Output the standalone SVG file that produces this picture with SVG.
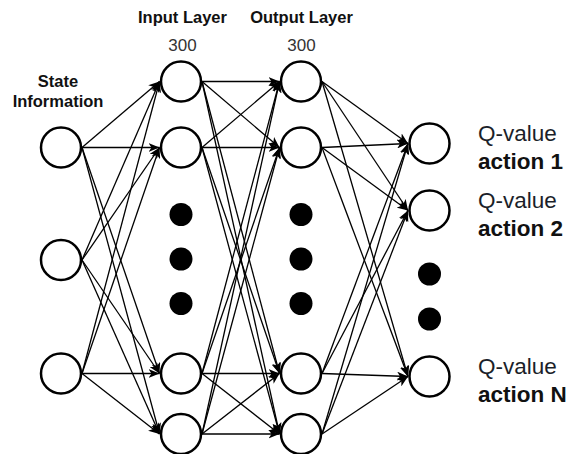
<svg xmlns="http://www.w3.org/2000/svg" width="567" height="454" viewBox="0 0 567 454">
  <style>
    .node { fill: #ffffff; stroke: #000000; stroke-width: 2.5; }
    .dot { fill: #000000; stroke: none; }
    .edge { stroke: #000000; stroke-width: 1.3; fill: none; marker-end: url(#arrow); }
    .title { font-family: "Liberation Sans", Arial, sans-serif; font-weight: bold; font-size: 16.5px; fill: #111111; text-anchor: middle; }
    .count { font-family: "Liberation Sans", Arial, sans-serif; font-size: 17px; fill: #333333; text-anchor: middle; }
    .qval { font-family: "Liberation Sans", Arial, sans-serif; font-size: 22.5px; fill: #1b1f2a; }
    .act { font-family: "Liberation Sans", Arial, sans-serif; font-weight: bold; font-size: 22.5px; fill: #111111; }
  </style>
  <defs>
    <marker id="arrow" viewBox="0 0 11 9" refX="11" refY="4.5" markerWidth="11" markerHeight="9" markerUnits="userSpaceOnUse" orient="auto">
      <path d="M0,0 L11,4.5 L0,9 L3,4.5 Z" fill="#000000"/>
    </marker>
  </defs>
  <rect width="567" height="454" fill="#ffffff"/>

  <!-- layer labels -->
  <g id="labels">
    <text class="title" x="182.5" y="23">Input Layer</text>
    <text class="title" x="301.5" y="23">Output Layer</text>
    <text class="count" x="182.5" y="50.5">300</text>
    <text class="count" x="301.5" y="50.5">300</text>
    <text class="title" x="58" y="87">State</text>
    <text class="title" x="58" y="107">Information</text>
  </g>

  <!-- connectors -->
  <g id="connectors">
    <!-- state -> input layer -->
    <line class="edge" x1="82" y1="147.5" x2="159.5" y2="81.5"/>
    <line class="edge" x1="82" y1="147.5" x2="159.5" y2="147.5"/>
    <line class="edge" x1="82" y1="147.5" x2="159.5" y2="373.5"/>
    <line class="edge" x1="82" y1="147.5" x2="159.5" y2="434"/>
    <line class="edge" x1="82" y1="260" x2="159.5" y2="81.5"/>
    <line class="edge" x1="82" y1="260" x2="159.5" y2="147.5"/>
    <line class="edge" x1="82" y1="260" x2="159.5" y2="373.5"/>
    <line class="edge" x1="82" y1="260" x2="159.5" y2="434"/>
    <line class="edge" x1="82" y1="373.5" x2="159.5" y2="81.5"/>
    <line class="edge" x1="82" y1="373.5" x2="159.5" y2="147.5"/>
    <line class="edge" x1="82" y1="373.5" x2="159.5" y2="373.5"/>
    <line class="edge" x1="82" y1="373.5" x2="159.5" y2="434"/>
    <!-- input layer -> output layer -->
    <line class="edge" x1="202" y1="81.5" x2="279.5" y2="81.5"/>
    <line class="edge" x1="202" y1="81.5" x2="279.5" y2="147.5"/>
    <line class="edge" x1="202" y1="81.5" x2="279.5" y2="373.5"/>
    <line class="edge" x1="202" y1="81.5" x2="279.5" y2="434"/>
    <line class="edge" x1="202" y1="147.5" x2="279.5" y2="81.5"/>
    <line class="edge" x1="202" y1="147.5" x2="279.5" y2="147.5"/>
    <line class="edge" x1="202" y1="147.5" x2="279.5" y2="373.5"/>
    <line class="edge" x1="202" y1="147.5" x2="279.5" y2="434"/>
    <line class="edge" x1="202" y1="373.5" x2="279.5" y2="81.5"/>
    <line class="edge" x1="202" y1="373.5" x2="279.5" y2="147.5"/>
    <line class="edge" x1="202" y1="373.5" x2="279.5" y2="373.5"/>
    <line class="edge" x1="202" y1="373.5" x2="279.5" y2="434"/>
    <line class="edge" x1="202" y1="434" x2="279.5" y2="81.5"/>
    <line class="edge" x1="202" y1="434" x2="279.5" y2="147.5"/>
    <line class="edge" x1="202" y1="434" x2="279.5" y2="373.5"/>
    <line class="edge" x1="202" y1="434" x2="279.5" y2="434"/>
    <!-- output layer -> Q-values -->
    <line class="edge" x1="322" y1="81.5" x2="408" y2="143.5"/>
    <line class="edge" x1="322" y1="81.5" x2="408" y2="210.5"/>
    <line class="edge" x1="322" y1="81.5" x2="408" y2="376.5"/>
    <line class="edge" x1="322" y1="147.5" x2="408" y2="143.5"/>
    <line class="edge" x1="322" y1="147.5" x2="408" y2="210.5"/>
    <line class="edge" x1="322" y1="147.5" x2="408" y2="376.5"/>
    <line class="edge" x1="322" y1="373.5" x2="408" y2="143.5"/>
    <line class="edge" x1="322" y1="373.5" x2="408" y2="210.5"/>
    <line class="edge" x1="322" y1="373.5" x2="408" y2="376.5"/>
    <line class="edge" x1="322" y1="434" x2="408" y2="143.5"/>
    <line class="edge" x1="322" y1="434" x2="408" y2="210.5"/>
    <line class="edge" x1="322" y1="434" x2="408" y2="376.5"/>
  </g>

  <!-- state inputs -->
  <g id="state-1"><circle class="node" cx="61" cy="147.5" r="20"/></g>
  <g id="state-2"><circle class="node" cx="61" cy="260" r="20"/></g>
  <g id="state-3"><circle class="node" cx="61" cy="373.5" r="20"/></g>

  <!-- input layer -->
  <g id="input-1"><circle class="node" cx="181" cy="81.5" r="20"/></g>
  <g id="input-2"><circle class="node" cx="181" cy="147.5" r="20"/></g>
  <g id="input-ellipsis">
    <circle class="dot" cx="181" cy="214.5" r="11.5"/>
    <circle class="dot" cx="181" cy="259" r="11.5"/>
    <circle class="dot" cx="181" cy="303.5" r="11.5"/>
  </g>
  <g id="input-3"><circle class="node" cx="181" cy="373.5" r="20"/></g>
  <g id="input-4"><circle class="node" cx="181" cy="434" r="20"/></g>

  <!-- output layer -->
  <g id="output-1"><circle class="node" cx="301" cy="81.5" r="20"/></g>
  <g id="output-2"><circle class="node" cx="301" cy="147.5" r="20"/></g>
  <g id="output-ellipsis">
    <circle class="dot" cx="301" cy="214.5" r="11.5"/>
    <circle class="dot" cx="301" cy="259" r="11.5"/>
    <circle class="dot" cx="301" cy="303.5" r="11.5"/>
  </g>
  <g id="output-3"><circle class="node" cx="301" cy="373.5" r="20"/></g>
  <g id="output-4"><circle class="node" cx="301" cy="434" r="20"/></g>

  <!-- Q-value outputs -->
  <g id="q-1">
    <circle class="node" cx="429.5" cy="143.5" r="20"/>
    <text class="qval" x="478" y="141">Q-value</text>
    <text class="act" x="478" y="168.5">action 1</text>
  </g>
  <g id="q-2">
    <circle class="node" cx="429.5" cy="210.5" r="20"/>
    <text class="qval" x="478" y="208">Q-value</text>
    <text class="act" x="478" y="235.5">action 2</text>
  </g>
  <g id="q-ellipsis">
    <circle class="dot" cx="429.5" cy="274" r="11.5"/>
    <circle class="dot" cx="429.5" cy="319" r="11.5"/>
  </g>
  <g id="q-n">
    <circle class="node" cx="429.5" cy="376.5" r="20"/>
    <text class="qval" x="478" y="374">Q-value</text>
    <text class="act" x="478" y="401.5">action N</text>
  </g>
</svg>
